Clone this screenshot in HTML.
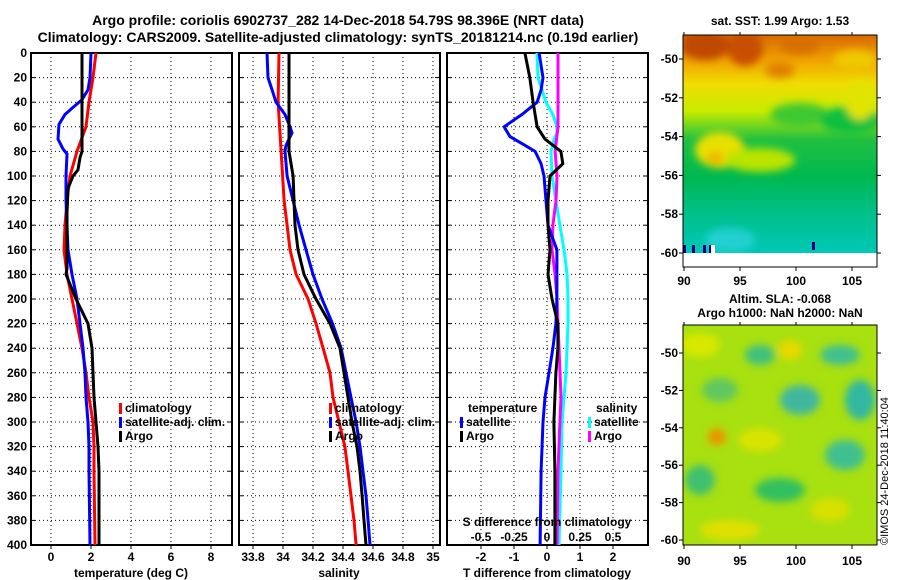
<!DOCTYPE html>
<html><head><meta charset="utf-8">
<style>
html,body{margin:0;padding:0;background:#fff;}
svg{display:block;font-family:"Liberation Sans",Arial,sans-serif;font-weight:bold;}
</style></head>
<body>
<svg id="chart" width="900" height="580" viewBox="0 0 900 580" xmlns="http://www.w3.org/2000/svg">
<defs>
  <clipPath id="cp1"><rect x="31" y="53" width="201" height="492"/></clipPath>
  <clipPath id="cp2"><rect x="239" y="53" width="201" height="492"/></clipPath>
  <clipPath id="cp3"><rect x="447" y="53" width="201" height="492"/></clipPath>
  <clipPath id="cpm1"><rect x="683" y="35" width="194" height="218"/></clipPath>
  <clipPath id="cpm2"><rect x="683" y="325" width="194" height="220"/></clipPath>
  <linearGradient id="sstg" x1="0" y1="0" x2="0" y2="1">
    <stop offset="0" stop-color="#d86a00"/>
    <stop offset="0.12" stop-color="#f0a400"/>
    <stop offset="0.22" stop-color="#f0dc00"/>
    <stop offset="0.35" stop-color="#c8ec00"/>
    <stop offset="0.48" stop-color="#20c040"/>
    <stop offset="0.65" stop-color="#00b850"/>
    <stop offset="0.82" stop-color="#00c08a"/>
    <stop offset="1" stop-color="#00c8b8"/>
  </linearGradient>
  <filter id="blur"><feGaussianBlur stdDeviation="4"/></filter>
</defs>
<text x="338" y="25" font-size="14" text-anchor="middle">Argo profile: coriolis 6902737_282 14-Dec-2018 54.79S 98.396E (NRT data)</text>
<text x="338" y="42" font-size="14" text-anchor="middle">Climatology: CARS2009. Satellite-adjusted climatology: synTS_20181214.nc (0.19d earlier)</text>
<g id="p1"></g>
<g id="p2"></g>
<g id="p3"></g>

<!-- SST map -->
<g>
  <text x="780" y="25" font-size="12" text-anchor="middle">sat. SST: 1.99 Argo: 1.53</text>
  <g clip-path="url(#cpm1)">
    <rect x="683" y="35" width="194" height="218" fill="url(#sstg)"/>
    <g filter="url(#blur)">
      <ellipse cx="705" cy="45" rx="25" ry="15" fill="#c04a00"/>
      <ellipse cx="745" cy="48" rx="18" ry="18" fill="#c85000"/>
      <ellipse cx="780" cy="70" rx="15" ry="8" fill="#e08000"/>
      <ellipse cx="800" cy="45" rx="20" ry="9" fill="#d87000"/>
      <ellipse cx="855" cy="60" rx="22" ry="10" fill="#f0c800"/>
      <ellipse cx="720" cy="150" rx="25" ry="18" fill="#e8e000"/>
      <ellipse cx="760" cy="160" rx="35" ry="12" fill="#b8e400"/>
      <ellipse cx="800" cy="115" rx="30" ry="12" fill="#40c830"/>
      <ellipse cx="850" cy="120" rx="30" ry="14" fill="#10c040"/>
      <ellipse cx="715" cy="158" rx="8" ry="6" fill="#f0b000"/>
      <ellipse cx="860" cy="100" rx="15" ry="20" fill="#e0e400"/>
      <ellipse cx="730" cy="240" rx="25" ry="12" fill="#20d0d0"/>
    </g>
    <rect x="683" y="245" width="3" height="8" fill="#000080"/>
    <rect x="692" y="245" width="3" height="8" fill="#000080"/>
    <rect x="703" y="245" width="3" height="8" fill="#000080"/>
    <rect x="709" y="245" width="3" height="8" fill="#000080"/>
    <rect x="711" y="245" width="4" height="8" fill="#fff"/>
    <rect x="812" y="242" width="3" height="8" fill="#000080"/>
  </g>
  <rect x="683" y="35" width="194" height="232" fill="none" stroke="#000" stroke-width="1"/>
</g>
<!-- SLA map -->
<g>
  <text x="780" y="303" font-size="12" text-anchor="middle">Altim. SLA: -0.068</text>
  <text x="780" y="317" font-size="12" text-anchor="middle">Argo h1000: NaN h2000: NaN</text>
  <g clip-path="url(#cpm2)">
    <rect x="683" y="325" width="194" height="220" fill="#a8e010"/>
    <g filter="url(#blur)">
      <ellipse cx="700" cy="345" rx="20" ry="12" fill="#d8e800"/>
      <ellipse cx="760" cy="355" rx="15" ry="10" fill="#40c080"/>
      <ellipse cx="790" cy="350" rx="12" ry="10" fill="#e8d800"/>
      <ellipse cx="840" cy="355" rx="20" ry="10" fill="#40c090"/>
      <ellipse cx="720" cy="390" rx="18" ry="12" fill="#60c860"/>
      <ellipse cx="800" cy="400" rx="20" ry="15" fill="#40b8a0"/>
      <ellipse cx="860" cy="400" rx="15" ry="20" fill="#30b8a0"/>
      <ellipse cx="717" cy="437" rx="9" ry="8" fill="#f09000"/>
      <ellipse cx="760" cy="440" rx="22" ry="12" fill="#d8e400"/>
      <ellipse cx="845" cy="455" rx="20" ry="15" fill="#40c090"/>
      <ellipse cx="700" cy="480" rx="15" ry="15" fill="#40c070"/>
      <ellipse cx="780" cy="490" rx="25" ry="12" fill="#30c060"/>
      <ellipse cx="830" cy="510" rx="20" ry="12" fill="#d8e000"/>
      <ellipse cx="730" cy="530" rx="30" ry="10" fill="#e0e000"/>
    </g>
  </g>
  <rect x="683" y="325" width="194" height="220" fill="none" stroke="#000" stroke-width="1"/>
</g>
<text transform="translate(888,545) rotate(-90)" font-size="11" font-weight="normal">©IMOS 24-Dec-2018 11:40:04</text>
<g id="maxes"></g>

<script>
// ---- data ----
const depthTicks = [0,20,40,60,80,100,120,140,160,180,200,220,240,260,280,300,320,340,360,380,400];
const tempTicks = [0,2,4,6,8];
const salTicks = [33.8,34,34.2,34.4,34.6,34.8,35];
const tdiffTicks = [-2,-1,0,1,2];
const sdiffTicks = [-0.5,-0.25,0,0.25,0.5];

const argoTDepth = [0,80,85,95,100,110,130,175,180,190,200,220,240,260,280,300,320,340,400];
const argoTVal = [1.55,1.55,1.45,1.35,1.1,0.85,0.8,0.8,0.75,1.0,1.25,1.85,2.05,2.1,2.15,2.25,2.35,2.4,2.4];
const climTDepth = [0,20,40,60,80,100,120,140,160,180,200,220,240,260,280,300,320,340,400];
const climTVal = [2.25,2.1,1.9,1.75,1.3,0.95,0.8,0.7,0.65,0.8,1.05,1.3,1.55,1.75,1.9,2.1,2.15,2.15,2.2];
const satTDepth = [0,20,30,38,45,50,58,70,78,82,100,120,140,160,180,200,220,240,260,280,300,320,340,400];
const satTVal = [2.0,1.95,1.85,1.55,1.05,0.7,0.4,0.35,0.6,0.8,0.75,0.75,0.8,0.85,1.05,1.3,1.45,1.6,1.7,1.75,1.85,1.9,1.9,1.95];

const argoSDepth = [0,80,100,120,140,160,180,200,220,240,260,280,300,320,340,360,380,400];
const argoSVal = [34.04,34.04,34.067,34.073,34.08,34.1,34.14,34.22,34.313,34.38,34.407,34.433,34.46,34.493,34.513,34.527,34.54,34.553];
const climSDepth = [0,40,80,120,140,160,180,200,220,240,260,280,300,320,340,360,380,400];
const climSVal = [33.973,33.967,33.987,34.007,34.027,34.047,34.087,34.167,34.22,34.267,34.313,34.333,34.373,34.413,34.433,34.453,34.473,34.487];
const satSDepth = [0,20,30,40,50,60,65,75,80,100,120,140,160,180,200,220,240,260,280,300,320,340,360,380,400];
const satSVal = [33.893,33.9,33.927,33.953,34.013,34.047,34.06,34.02,34.013,34.027,34.067,34.107,34.153,34.2,34.26,34.33,34.387,34.42,34.453,34.487,34.513,34.533,34.553,34.567,34.58];

const argoTdDepth = [0,20,40,60,70,80,90,100,120,140,160,180,200,220,240,260,280,300,340,400];
const argoTdVal = [-0.67,-0.52,-0.42,-0.3,-0.06,0.42,0.48,0.09,0.03,0.03,0.09,0.03,0.15,0.33,0.33,0.27,0.24,0.21,0.24,0.24];
const satTdDepth = [0,20,30,40,50,60,68,75,80,90,100,120,140,160,180,200,220,240,260,280,300,340,400];
const satTdVal = [-0.24,-0.12,-0.18,-0.3,-0.76,-1.3,-1.12,-0.67,-0.36,-0.18,-0.09,-0.03,0.03,0.3,0.3,0.3,0.27,0.18,0.06,-0.06,-0.12,-0.18,-0.21];
const satSdDepth = [0,20,30,40,50,60,65,70,80,100,120,140,160,180,200,220,240,260,280,300,340,400];
const satSdVal = [-0.076,-0.068,-0.038,-0.008,0.045,0.076,0.076,0.053,0.03,0.038,0.068,0.098,0.129,0.152,0.159,0.159,0.152,0.144,0.129,0.114,0.106,0.091];
const argoSdDepth = [0,60,80,100,120,140,160,180,200,240,280,300,340,400];
const argoSdVal = [0.083,0.083,0.061,0.076,0.068,0.045,0.038,0.061,0.076,0.091,0.106,0.098,0.083,0.076];

const mapLatTicks = [-50,-52,-54,-56,-58,-60];
const mapLonTicks = [90,95,100,105];

// ---- drawing ----
const NS = "http://www.w3.org/2000/svg";
const TOP = 53, BOT = 545;
function yD(d){ return TOP + d*(BOT-TOP)/400; }
function mk(parent, tag, attrs){
  const e = document.createElementNS(NS, tag);
  for (const k in attrs) e.setAttribute(k, attrs[k]);
  parent.appendChild(e); return e;
}
function txt(parent, x, y, s, size, anchor){
  const t = mk(parent, "text", {x:x, y:y, "font-size":size, "text-anchor":anchor});
  t.textContent = s; return t;
}

function panel(g, x0, x1, xTicks, xf, clip, tickFmt, showY){
  for (const t of xTicks){
    const ln = mk(g, "line", {x1:xf(t), x2:xf(t), y1:TOP, y2:BOT, stroke:"#000", "stroke-width":1, "stroke-dasharray":"1,3"});
    
    
  }
  for (const d of depthTicks){
    const ln = mk(g, "line", {x1:x0, x2:x1, y1:yD(d), y2:yD(d), stroke:"#000", "stroke-width":1, "stroke-dasharray":"1,3"});
    
    
    mk(g, "line", {x1:x0, x2:x0+4, y1:yD(d), y2:yD(d), stroke:"#000"});
    mk(g, "line", {x1:x1-4, x2:x1, y1:yD(d), y2:yD(d), stroke:"#000"});
    if (showY){
      const t = txt(g, x0-4, yD(d)+4, String(d), 12, "end");
      
      
    }
  }
  for (const t of xTicks){
    mk(g, "line", {x1:xf(t), x2:xf(t), y1:BOT, y2:BOT+4, stroke:"#000"});
    const lb = txt(g, xf(t), 561, tickFmt(t), 12, "middle");
    
    
  }
  const fr = mk(g, "rect", {x:x0, y:TOP, width:x1-x0, height:BOT-TOP, fill:"none", stroke:"#000", "stroke-width":2});
  
  
}
function series(g, depths, vals, xf, color, clip, name){
  const pts = depths.map((d,i)=> xf(vals[i]).toFixed(1)+","+yD(d).toFixed(1)).join(" ");
  const pl = mk(g, "polyline", {points:pts, fill:"none", stroke:color, "stroke-width":3, "clip-path":"url(#"+clip+")"});
  
  
}
function legendEntry(g, x, y, color, label, name){
  const r = mk(g, "rect", {x:x, y:y-9, width:3, height:11, fill:color});
  
  
  const t = txt(g, x+6, y, label, 12, "start");
  
  
}

// Panel 1 - temperature
const p1 = document.getElementById("p1");
const xT = v => 51 + 20*v;
panel(p1, 31, 232, tempTicks, xT, "cp1", v=>String(v), true);
series(p1, climTDepth, climTVal, xT, "#ff0000", "cp1", "climatology-temperature-line");
series(p1, satTDepth, satTVal, xT, "#0000ff", "cp1", "satellite-temperature-line");
series(p1, argoTDepth, argoTVal, xT, "#000000", "cp1", "argo-temperature-line");
legendEntry(p1, 119, 412, "#ff0000", "climatology", "legend-climatology");
legendEntry(p1, 119, 426, "#0000ff", "satellite-adj. clim.", "legend-satellite");
legendEntry(p1, 119, 440, "#000000", "Argo", "legend-argo");
let at = txt(p1, 131, 577, "temperature (deg C)", 12, "middle");



// Panel 2 - salinity
const p2 = document.getElementById("p2");
const xS = v => 253 + 150*(v-33.8);
panel(p2, 239, 440, salTicks, xS, "cp2", v=>String(v), false);
series(p2, climSDepth, climSVal, xS, "#ff0000", "cp2", "climatology-salinity-line");
series(p2, satSDepth, satSVal, xS, "#0000ff", "cp2", "satellite-salinity-line");
series(p2, argoSDepth, argoSVal, xS, "#000000", "cp2", "argo-salinity-line");
legendEntry(p2, 329, 412, "#ff0000", "climatology", "legend-climatology");
legendEntry(p2, 329, 426, "#0000ff", "satellite-adj. clim.", "legend-satellite");
legendEntry(p2, 329, 440, "#000000", "Argo", "legend-argo");
at = txt(p2, 339, 577, "salinity", 12, "middle");



// Panel 3 - differences
const p3 = document.getElementById("p3");
const xTd = v => 547 + 33*v;
const xSd = v => 547 + 132*v;
panel(p3, 447, 648, tdiffTicks, xTd, "cp3", v=>String(v), false);
series(p3, satSdDepth, satSdVal, xSd, "#00ffff", "cp3", "satellite-salinity-diff-line");
series(p3, argoSdDepth, argoSdVal, xSd, "#ff00ff", "cp3", "argo-salinity-diff-line");
series(p3, satTdDepth, satTdVal, xTd, "#0000ff", "cp3", "satellite-temperature-diff-line");
series(p3, argoTdDepth, argoTdVal, xTd, "#000000", "cp3", "argo-temperature-diff-line");
let lt = txt(p3, 468, 412, "temperature", 12, "start");


legendEntry(p3, 460, 426, "#0000ff", "satellite", "legend-t-satellite");
legendEntry(p3, 460, 440, "#000000", "Argo", "legend-t-argo");
lt = txt(p3, 596, 412, "salinity", 12, "start");


legendEntry(p3, 588, 426, "#00ffff", "satellite", "legend-s-satellite");
legendEntry(p3, 588, 440, "#ff00ff", "Argo", "legend-s-argo");
lt = txt(p3, 547, 526, "S difference from climatology", 12, "middle");


for (const s of sdiffTicks){
  const lb = txt(p3, xSd(s), 541, String(s), 12, "middle");
  
  
}
at = txt(p3, 547, 577, "T difference from climatology", 12, "middle");



// Map axes
const ma = document.getElementById("maxes");
function mapAxes(yTop, lat0y, latStep, bottomY, labelY){
  for (const la of mapLatTicks){
    const y = lat0y + (-50 - la)*latStep;
    mk(ma, "line", {x1:683, x2:679, y1:y, y2:y, stroke:"#000"});
    mk(ma, "line", {x1:877, x2:881, y1:y, y2:y, stroke:"#000"});
    const t = txt(ma, 678, y+4, String(la), 12, "end");
    
    
  }
  for (const lo of mapLonTicks){
    const x = 684 + (lo-90)*11.2;
    mk(ma, "line", {x1:x, x2:x, y1:bottomY, y2:bottomY+4, stroke:"#000"});
    mk(ma, "line", {x1:x, x2:x, y1:yTop, y2:yTop-3, stroke:"#000"});
    const t = txt(ma, x, labelY, String(lo), 12, "middle");
    
    
  }
}
mapAxes(35, 59, 19.4, 267, 285);
mapAxes(325, 353, 18.7, 545, 565);
</script>
</svg>
</body></html>
